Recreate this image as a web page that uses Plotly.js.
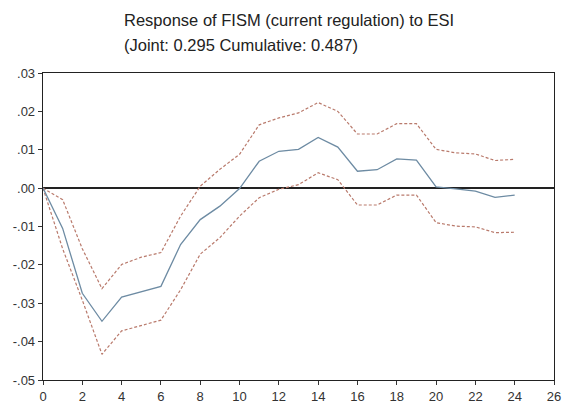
<!DOCTYPE html>
<html><head><meta charset="utf-8">
<script src="https://cdn.plot.ly/plotly-3.0.1.min.js"></script>
<style>html,body{margin:0;padding:0;background:#fff}</style>
</head><body><div id="c" style="width:563px;height:403px"></div>
<script>
var periods = [0,1,2,3,4,5,6,7,8,9,10,11,12,13,14,15,16,17,18,19,20,21,22,23,24];
var response = [0,-0.0105,-0.0274,-0.0347,-0.0284,-0.0270,-0.0256,-0.0147,-0.0082,-0.0047,-0.0001,0.0070,0.0096,0.0101,0.0132,0.0107,0.0044,0.0048,0.0076,0.0073,0.0003,-0.0002,-0.0008,-0.0024,-0.0018];
var upper = [0,-0.0030,-0.0158,-0.0262,-0.0199,-0.0180,-0.0168,-0.0073,0.0005,0.0049,0.0088,0.0165,0.0183,0.0196,0.0223,0.0200,0.0141,0.0141,0.0168,0.0168,0.0101,0.0092,0.0089,0.0072,0.0075];
var lower = [0,-0.0158,-0.0292,-0.0433,-0.0372,-0.0357,-0.0344,-0.0265,-0.0172,-0.0129,-0.0073,-0.0025,-0.0003,0.0009,0.0040,0.0022,-0.0044,-0.0044,-0.0018,-0.0018,-0.0090,-0.0099,-0.0101,-0.0116,-0.0115];
var xTickVals = [0,2,4,6,8,10,12,14,16,18,20,22,24,26];
var yTickVals = [0.03,0.02,0.01,0,-0.01,-0.02,-0.03,-0.04,-0.05];
var yTickText = ['.03','.02','.01','.00','-.01','-.02','-.03','-.04','-.05'];
var titleLine1 = 'Response of FISM (current regulation) to ESI';
var titleLine2 = '(Joint: 0.295 Cumulative: 0.487)';

var band = {color:'#b97a6c', width:1.2, dash:'3px,2px'};
var traces = [
  {x:periods, y:upper, mode:'lines', line:band, hoverinfo:'skip'},
  {x:periods, y:lower, mode:'lines', line:band, hoverinfo:'skip'},
  {x:periods, y:response, mode:'lines', line:{color:'#6d8ba3', width:1.3}}
];
var tfont = {size:16.5, color:'#222', family:'Liberation Sans, Arial, sans-serif'};
var layout = {
  width:563, height:403,
  margin:{l:43, r:9, t:73, b:23},
  paper_bgcolor:'#fff', plot_bgcolor:'#fff',
  showlegend:false,
  font:{family:'Liberation Sans, Arial, sans-serif', size:13, color:'#333'},
  xaxis:{range:[0,26], tickvals:xTickVals, ticks:'outside', ticklen:4, tickcolor:'#333',
    showline:true, linecolor:'#222', linewidth:1.3, mirror:true, showgrid:false, zeroline:false, tickfont:{size:13,color:'#333'}},
  yaxis:{range:[-0.05,0.03], tickvals:yTickVals, ticktext:yTickText, ticks:'outside', ticklen:4, tickcolor:'#333',
    showline:true, linecolor:'#222', linewidth:1.3, mirror:true, showgrid:false, zeroline:true, zerolinecolor:'#222', zerolinewidth:1.3,
    tickfont:{size:13,color:'#333'}},
  annotations:[
    {text:titleLine1, xref:'paper', yref:'paper', x:(122-43)/511, y:1, yshift:53, xanchor:'left', yanchor:'middle', showarrow:false, font:tfont},
    {text:titleLine2, xref:'paper', yref:'paper', x:(122-43)/511, y:1, yshift:28, xanchor:'left', yanchor:'middle', showarrow:false, font:tfont}
  ]
};
Plotly.newPlot('c', traces, layout, {displayModeBar:false, staticPlot:true});
</script></body></html>
